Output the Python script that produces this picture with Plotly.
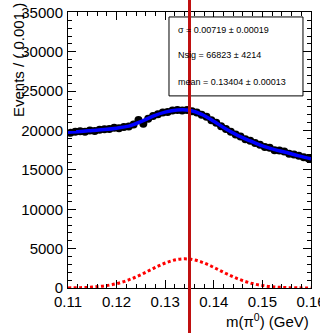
import plotly.graph_objects as go

# Binned pi0 candidate mass spectrum (bin width 0.001 GeV)
bin_centers = [round(0.1105 + 0.001 * i, 4) for i in range(50)]
events = [19700, 19850, 19900, 19850, 20000, 19950, 20100, 20150, 20200, 20350,
          20300, 20450, 20500, 20750, 21350, 20850, 21500, 21850, 22050, 22300,
          22350, 22550, 22600, 22550, 22600, 22450, 22300, 22000, 21750, 21300,
          21000, 20550, 20200, 19850, 19500, 19250, 18900, 18700, 18400, 18200,
          17900, 17800, 17500, 17450, 17350, 17050, 16950, 16800, 16600, 16450]

# Total fit (signal + background) sampled along the mass axis
fit_x = [0.1100, 0.1125, 0.1150, 0.1175, 0.1200, 0.1225, 0.1250, 0.1275, 0.1300,
         0.1325, 0.1350, 0.1375, 0.1400, 0.1425, 0.1450, 0.1475, 0.1500, 0.1525,
         0.1550, 0.1575, 0.1600]
fit_total = [19780, 19870, 20000, 20130, 20300, 20550, 21120, 21830, 22340,
             22600, 22560, 22060, 21180, 20180, 19360, 18680, 18040, 17580,
             17200, 16780, 16400]

# Signal Gaussian component
fit_signal = [14, 42, 113, 267, 557, 1032, 1694, 2464, 3176,
              3628, 3672, 3294, 2618, 1844, 1150, 636, 312, 135,
              52, 18, 5]

pi0_mass = 0.135

fit_lines = ["σ = 0.00719 ± 0.00019",
             "Nsig = 66823 ± 4214",
             "mean = 0.13404 ± 0.00013"]

FONT = "Liberation Sans, Arial, Helvetica, sans-serif"

fig = go.Figure()
fig.add_trace(go.Scatter(x=bin_centers, y=events, mode="markers",
                         marker=dict(color="black", size=8), hoverinfo="skip"))
fig.add_trace(go.Scatter(x=fit_x, y=fit_total, mode="lines", line_shape="spline",
                         line=dict(color="#0000ff", width=3.5)))
fig.add_trace(go.Scatter(x=fit_x, y=fit_signal, mode="lines", line_shape="spline",
                         line=dict(color="#ff0000", width=3, dash="3px,2.5px")))

axis_common = dict(showline=True, linecolor="black", linewidth=1, mirror="ticks",
                   ticks="inside", tickcolor="black", tickwidth=1, ticklen=8,
                   showgrid=False, zeroline=False, ticklabeloverflow="allow",
                   automargin=False,
                   tickfont=dict(family=FONT, size=15, color="black"))

fig.update_xaxes(range=[0.11, 0.16], tickvals=[0.11, 0.12, 0.13, 0.14, 0.15, 0.16],
                 ticktext=["0.11", "0.12", "0.13", "0.14", "0.15", "0.16"],
                 minor=dict(ticks="inside", ticklen=4, dtick=0.002, tick0=0.11,
                            tickcolor="black", showgrid=False),
                 **axis_common)
fig.update_yaxes(range=[0, 35050], tickvals=[0, 5000, 10000, 15000, 20000, 25000, 30000, 35000],
                 ticktext=["0", "5000", "10000", "15000", "20000", "25000", "30000", "35000"],
                 minor=dict(ticks="inside", ticklen=4, dtick=1000, tick0=0,
                            tickcolor="black", showgrid=False),
                 ticklabelstandoff=1,
                 **axis_common)

# Fit-result box
fig.add_shape(type="rect", xref="paper", yref="paper", x0=0.4156, x1=0.967,
              y0=0.696, y1=0.982, line=dict(color="black", width=1),
              fillcolor="white", layer="above")
for txt, yy in zip(fit_lines, [0.935, 0.844, 0.746]):
    fig.add_annotation(text=txt, xref="paper", yref="paper", x=0.444, y=yy,
                       xanchor="left", yanchor="middle", showarrow=False,
                       font=dict(family=FONT, size=9, color="black"))

# Nominal pi0 mass marker
fig.add_shape(type="line", xref="x", yref="paper", x0=pi0_mass, x1=pi0_mass,
              y0=-0.2, y1=1.1, line=dict(color="#c01010", width=3), layer="above")

# Axis titles
fig.add_annotation(text="Events / ( 0.001 )", xref="paper", yref="paper",
                   x=0, y=1, xshift=-50, yshift=11, textangle=-90,
                   xanchor="center", yanchor="top", showarrow=False,
                   font=dict(family=FONT, size=15, color="black"))
fig.add_annotation(text="m(π<sup>0</sup>) (GeV)", xref="paper", yref="paper",
                   x=1, y=0, yshift=-21, xanchor="right", yanchor="top",
                   showarrow=False, font=dict(family=FONT, size=15, color="black"))

fig.update_layout(width=320, height=333, showlegend=False,
                  margin=dict(l=68, r=9, t=12, b=45, autoexpand=False),
                  paper_bgcolor="white", plot_bgcolor="white")

fig.write_html("out.html")
